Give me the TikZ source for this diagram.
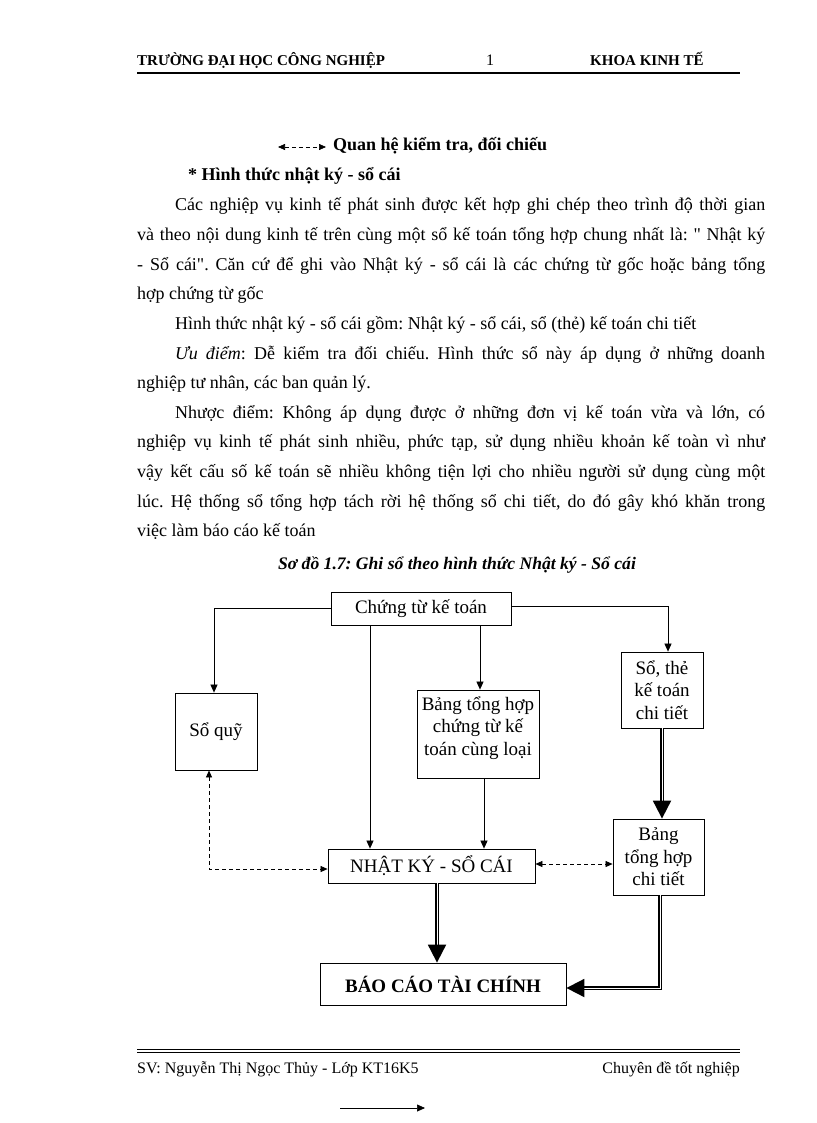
\documentclass[tikz,border=0pt]{standalone}
\usepackage{fontspec}
\setmainfont{Liberation Serif}[Ligatures=TeXOff]
\usetikzlibrary{arrows.meta,positioning}
\frenchspacing

% one justified line of body text
\newcommand{\justline}[2]{\hbox to #1pt{#2}}

\tikzset{
  box/.style={draw, line width=0.8pt, inner sep=2pt, align=center,
    font=\fontsize{19}{22.5}\selectfont},
  thin/.style={-{Triangle[width=7pt,length=8pt]}, line width=0.7pt},
  check/.style={{Triangle[width=6pt,length=7pt]}-{Triangle[width=6pt,length=7pt]},
    line width=0.7pt, dash pattern=on 4pt off 3pt},
  heavy/.style={-{Triangle[width=18pt,length=18pt]}, double, line width=1.9pt,
    double distance=1pt},
  txt/.style={anchor=base west, inner sep=0pt, font=\fontsize{18}{29.6}\selectfont},
  head/.style={anchor=base west, inner sep=0pt, font=\fontsize{15}{18}\selectfont\bfseries},
  foot/.style={inner sep=0pt, font=\fontsize{16}{19}\selectfont},
}

\begin{document}
\begin{tikzpicture}[x=1pt, y=-1pt]
	\useasboundingbox [fill=white] (0,0) rectangle (816,1123);

	% Header
	\node [head] (school)  at (137,66) {TRƯỜNG ĐẠI HỌC CÔNG NGHIỆP};
	\node [head, anchor=base, font=\fontsize{16}{18}\selectfont] (page) at (490,66) {1};
	\node [head] (faculty) at (590,66) {KHOA KINH TẾ};
	\draw [line width=1.6pt] (137,73) -- (740,73);

	% Legend
	\coordinate (lga) at (278,147);
	\coordinate (lgb) at (326,147);
	\draw [check] (lga) -- (lgb);
	\node [txt, font=\fontsize{18}{29.6}\selectfont\bfseries] (legend) at (333,151) {Quan hệ kiểm tra, đối chiếu};
	\node [txt, font=\fontsize{18}{29.6}\selectfont\bfseries] (title) at (188,181) {* Hình thức nhật ký - sổ cái};

	% Body text
	\node [txt] (l1)  at (175,211)   {\justline{590}{Các nghiệp vụ kinh tế phát sinh được kết hợp ghi chép theo trình độ thời gian}};
	\node [txt] (l2)  at (137,240.6) {\justline{628}{và theo nội dung kinh tế trên cùng một sổ kế toán tổng hợp chung nhất là: " Nhật ký}};
	\node [txt] (l3)  at (137,270.2) {\justline{628}{- Sổ cái". Căn cứ để ghi vào Nhật ký - sổ cái là các chứng từ gốc hoặc bảng tổng}};
	\node [txt] (l4)  at (137,299.8) {hợp chứng từ gốc};
	\node [txt] (l5)  at (175,329.4) {Hình thức nhật ký - sổ cái gồm: Nhật ký - sổ cái, sổ (thẻ) kế toán chi tiết};
	\node [txt] (l6)  at (175,359)   {\justline{590}{\textit{Ưu điểm}: Dễ kiểm tra đối chiếu. Hình thức sổ này áp dụng ở những doanh}};
	\node [txt] (l7)  at (137,388.6) {nghiệp tư nhân, các ban quản lý.};
	\node [txt] (l8)  at (175,418.2) {\justline{590}{Nhược điểm: Không áp dụng được ở những đơn vị kế toán vừa và lớn, có}};
	\node [txt] (l9)  at (137,447.8) {\justline{628}{nghiệp vụ kinh tế phát sinh nhiều, phức tạp, sử dụng nhiều khoản kế toàn vì như}};
	\node [txt] (l10) at (137,477.4) {\justline{628}{vậy kết cấu số kế toán sẽ nhiều không tiện lợi cho nhiều người sử dụng cùng một}};
	\node [txt] (l11) at (137,507)   {\justline{628}{lúc. Hệ thống sổ tổng hợp tách rời hệ thống sổ chi tiết, do đó gây khó khăn trong}};
	\node [txt] (l12) at (137,536.6) {việc làm báo cáo kế toán};

	% Caption
	\node [txt, anchor=base, font=\fontsize{17.6}{20}\selectfont\bfseries\itshape] (caption) at (457,569)
		{Sơ đồ 1.7: Ghi sổ theo hình thức Nhật ký - Sổ cái};

	% Boxes
	\node [box, minimum width=180pt, minimum height=33pt] (ct)  at (421,608.5) {Chứng từ kế toán};
	\node [box, minimum width=82pt,  minimum height=77pt] (sq)  at (216,731.5) {Sổ quỹ};
	\node [box, minimum width=122pt, minimum height=88pt] (bth) at (478,734)   {Bảng tổng hợp\\chứng từ kế\\toán cùng loại\\[-6pt]\mbox{}};
	\node [box, minimum width=82pt,  minimum height=76pt] (st)  at (662,690)   {Sổ, thẻ\\kế toán\\chi tiết};
	\node [box, minimum width=91pt,  minimum height=76pt] (bct) at (658.5,857) {Bảng\\tổng hợp\\chi tiết};
	\node [box, minimum width=207pt, minimum height=34pt] (nk)  at (431.5,866) {NHẬT KÝ - SỔ CÁI};
	\node [box, minimum width=246pt, minimum height=42pt, font=\fontsize{19}{22.5}\selectfont\bfseries] (bc) at (443,984) {BÁO CÁO TÀI CHÍNH};

	% Columns of the vertical connectors
	\coordinate (c1) at (370,0);
	\coordinate (c2) at (480,0);
	\coordinate (c3) at (484,0);
	\coordinate (c4) at (437,0);
	\coordinate (c5) at (209,0);
	\coordinate (c6) at (668,0);
	\coordinate (c7) at (662,0);
	\coordinate (c8) at (660,0);
	\coordinate (nkr) at ([yshift=2pt]nk.east);
	\coordinate (nkl) at ([yshift=-3pt]nk.west);
	\coordinate (bcr) at ([yshift=-4pt]bc.east);

	% Connectors
	\draw [thin] (ct.west) -| ([xshift=-2pt]sq.north);
	\draw [thin] ([yshift=2pt]ct.east) -| (c6 |- st.north);
	\draw [thin] (c2 |- ct.south) -- (c2 |- bth.north);
	\draw [thin] (c1 |- ct.south) -- (c1 |- nk.north);
	\draw [thin] (c3 |- bth.south) -- (c3 |- nk.north);
	\draw [check] (c5 |- sq.south) |- (nkl);
	\draw [check] (nkr) -- (nkr -| bct.west);
	\draw [heavy] (c7 |- st.south) -- (c7 |- bct.north);
	\draw [heavy] (c4 |- nk.south) -- (c4 |- bc.north);
	\draw [heavy] (c8 |- bct.south) |- (bcr);

	% Footer
	\draw [line width=0.9pt] (137,1049) -- (740,1049);
	\draw [line width=0.9pt] (137,1052.5) -- (740,1052.5);
	\node [foot, anchor=base west] (student) at (137,1073) {SV: Nguyễn Thị Ngọc Thủy - Lớp KT16K5};
	\node [foot, anchor=base east] (topic)   at (740,1073) {Chuyên đề tốt nghiệp};
	\coordinate (fa) at (340,1108);
	\coordinate (fb) at (425,1108);
	\draw [thin] (fa) -- (fb);
\end{tikzpicture}
\end{document}
